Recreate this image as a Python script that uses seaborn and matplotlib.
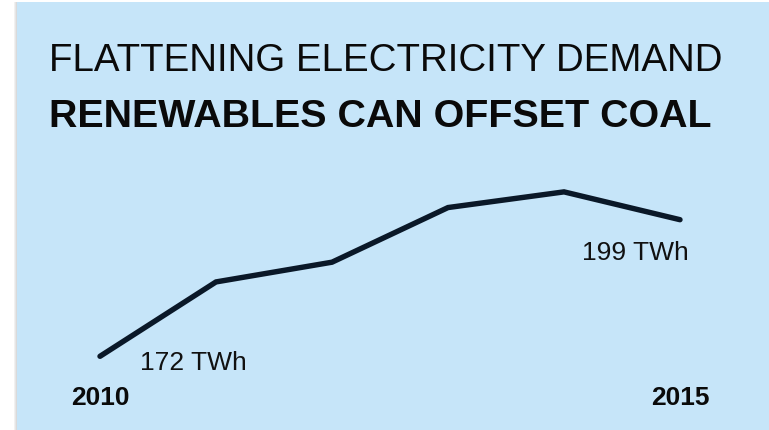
import matplotlib
matplotlib.use("Agg")
import matplotlib.pyplot as plt
import matplotlib.transforms as mtransforms
from matplotlib.patches import Rectangle
import seaborn as sns
import pandas as pd

# Annual electricity demand (TWh)
years = [2010, 2011, 2012, 2013, 2014, 2015]
demand_twh = [172, 186.7, 190.6, 201.4, 204.5, 199]
title_line1 = "FLATTENING ELECTRICITY DEMAND"
title_line2 = "RENEWABLES CAN OFFSET COAL"
unit = "TWh"

sns.set_theme(style="white")
plt.rcParams["font.family"] = ["Liberation Sans", "DejaVu Sans"]

W, H = 769, 431
DPI = 100
fig = plt.figure(figsize=(W / DPI, H / DPI), dpi=DPI, facecolor="white")

def fx(px):
    return px / W

def fy(py):
    return 1 - py / H

# soft shadow and light blue panel, kept behind the axes
for i, c in enumerate(["#F1F1F1", "#E6E6E6", "#DADADA"]):
    fig.patches.append(Rectangle((fx(14 + i), 0), fx(1), fy(3), transform=fig.transFigure,
                                 facecolor=c, edgecolor="none", zorder=-10))
fig.patches.append(Rectangle((fx(17), 0), 1 - fx(17), fy(3), transform=fig.transFigure,
                             facecolor="#C6E5F9", edgecolor="none", zorder=-10))

# title
fig.text(fx(49), fy(71), title_line1, fontsize=27.7, color="#0A0A0A",
         va="baseline", ha="left")
fig.text(fx(49), fy(127), title_line2, fontsize=28.4, color="#0A0A0A", fontweight="bold",
         va="baseline", ha="left")

# line axes: x from 2010 at px 100 to 2015 at px 680; y 172 at px 357.3, 199 at px 220.7
ax = fig.add_axes([fx(100), fy(357.3), fx(680) - fx(100), fy(220.7) - fy(357.3)])
ax.patch.set_alpha(0)
df = pd.DataFrame({"year": years, "demand": demand_twh})
sns.lineplot(data=df, x="year", y="demand", ax=ax, color="#0A1828", linewidth=3.9,
             solid_capstyle="round", solid_joinstyle="miter", clip_on=False)
ax.set_xlim(years[0], years[-1])
ax.set_ylim(demand_twh[0], demand_twh[-1])
ax.set_axis_off()

ax.annotate(f"{demand_twh[0]:g} {unit}", xy=(years[0], demand_twh[0]), xytext=(29, -9.5),
            textcoords="offset points", fontsize=19, color="#111111",
            ha="left", va="baseline", annotation_clip=False)
ax.annotate(f"{demand_twh[-1]:g} {unit}", xy=(years[-1], demand_twh[-1]), xytext=(6, -28),
            textcoords="offset points", fontsize=19, color="#111111",
            ha="right", va="baseline", annotation_clip=False)

# year labels under first and last points
trans = mtransforms.blended_transform_factory(ax.transData, fig.transFigure)
for yr in (years[0], years[-1]):
    ax.text(yr, fy(405), str(yr), transform=trans, fontsize=19, fontweight="bold",
            color="#0A0A0A", ha="center", va="baseline")

fig.savefig("out.png", dpi=DPI, facecolor="white")
